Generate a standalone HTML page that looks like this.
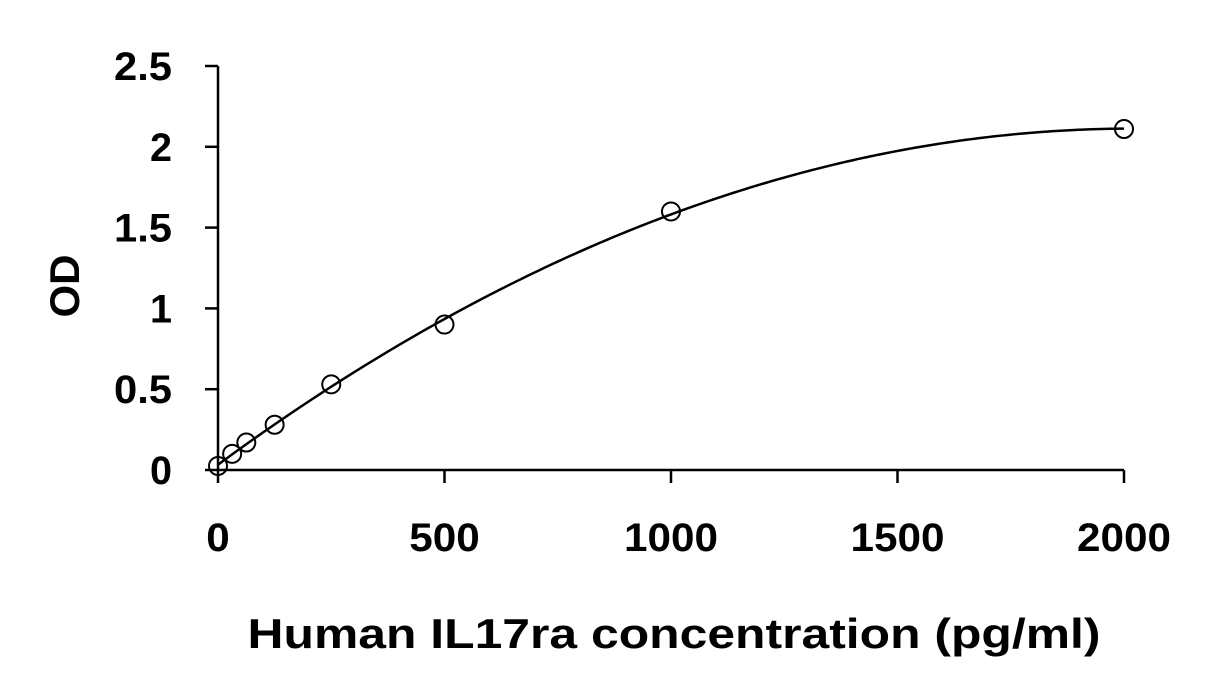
<!DOCTYPE html>
<html><head><meta charset="utf-8"><style>
body{margin:0;background:#fff}
svg text{font-family:"Liberation Sans",Arial,sans-serif;font-weight:bold;fill:#000}
</style></head><body>
<svg width="1231" height="695" viewBox="0 0 1231 695" xmlns="http://www.w3.org/2000/svg">
<g id="axes"></g>
<g id="plot"></g>
<text x="674" y="648" font-size="42" text-anchor="middle" textLength="853" lengthAdjust="spacingAndGlyphs">Human IL17ra concentration (pg/ml)</text>
<text x="0" y="0" font-size="42" text-anchor="middle" textLength="63" lengthAdjust="spacingAndGlyphs" transform="translate(79,286) rotate(-90)">OD</text>
</svg>
<script>
const xTicks=[0,500,1000,1500,2000];
const yTicks=[0,0.5,1,1.5,2,2.5];
const yTickLabels=["0","0.5","1","1.5","2","2.5"];
const concentrations=[0,31.25,62.5,125,250,500,1000,2000];
const odValues=[0.025,0.1,0.17,0.28,0.53,0.9,1.6,2.11];
const NS="http://www.w3.org/2000/svg";
const X=v=>218+v*(1124-218)/2000;
const Y=v=>470-v*(470-66)/2.5;
const axes=document.getElementById('axes'),plot=document.getElementById('plot');
function mk(tag,attrs,parent){const e=document.createElementNS(NS,tag);for(const k in attrs)e.setAttribute(k,attrs[k]);parent.appendChild(e);return e;}
let l=mk('line',{x1:X(0),y1:Y(0),x2:X(0),y2:Y(2.5),stroke:'#000','stroke-width':2.5},axes);


l=mk('line',{x1:X(0),y1:Y(0),x2:X(2000),y2:Y(0),stroke:'#000','stroke-width':2.5},axes);


yTicks.forEach((v,i)=>{
 const t=mk('line',{x1:X(0)-13,y1:Y(v),x2:X(0),y2:Y(v),stroke:'#000','stroke-width':2.5},axes);
 
 
 const s=yTickLabels[i];
 const tx=mk('text',{x:172,y:Y(v)+14,'font-size':40,'text-anchor':'end',textLength:s.length===1?22:58,lengthAdjust:'spacingAndGlyphs'},axes);
 tx.textContent=s;
 
 
});
xTicks.forEach(v=>{
 const s=String(v);
 const tx=mk('text',{x:X(v),y:551,'font-size':40,'text-anchor':'middle',textLength:s.length*23.5,lengthAdjust:'spacingAndGlyphs'},axes);
 tx.textContent=s;
 
 
 const t=mk('line',{x1:X(v),y1:Y(0),x2:X(v),y2:Y(0)+13,stroke:'#000','stroke-width':2.5},axes);
 
 
});
// least-squares quadratic fit
function fitQuad(xs,ys){
 let S=[0,0,0,0,0],T=[0,0,0];
 xs.forEach((x,i)=>{for(let k=0;k<5;k++)S[k]+=Math.pow(x,k);for(let k=0;k<3;k++)T[k]+=ys[i]*Math.pow(x,k);});
 const A=[[S[0],S[1],S[2],T[0]],[S[1],S[2],S[3],T[1]],[S[2],S[3],S[4],T[2]]];
 for(let i=0;i<3;i++){for(let j=i+1;j<3;j++){const f=A[j][i]/A[i][i];for(let k=i;k<4;k++)A[j][k]-=f*A[i][k];}}
 const r=[0,0,0];
 for(let i=2;i>=0;i--){let s=A[i][3];for(let k=i+1;k<3;k++)s-=A[i][k]*r[k];r[i]=s/A[i][i];}
 return r;
}
const cf=fitQuad(concentrations,odValues);
const xmax=Math.max(...concentrations);
let d='';
for(let i=0;i<=200;i++){const x=xmax*i/200;const y=cf[0]+cf[1]*x+cf[2]*x*x;d+=(i?'L':'M')+X(x).toFixed(2)+','+Y(y).toFixed(2);}
const path=mk('path',{d:d,fill:'none',stroke:'#000','stroke-width':2.5},plot);


concentrations.forEach((c,i)=>{
 const ci=mk('circle',{cx:X(c),cy:Y(odValues[i]),r:9,fill:'none',stroke:'#000','stroke-width':2},plot);
 
 
});
</script>
</body></html>
